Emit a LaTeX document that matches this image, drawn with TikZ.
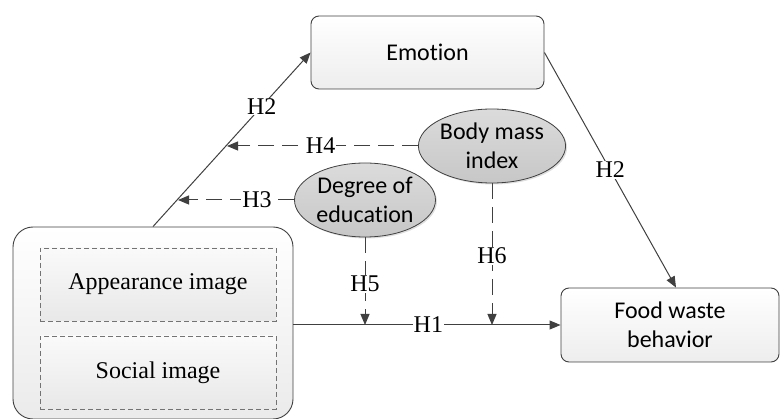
\documentclass[tikz,border=0pt]{standalone}
\usepackage{fontspec}
\setmainfont{Liberation Serif}
\newfontfamily\calib[Ligatures=NoCommon]{Carlito}
\usetikzlibrary{arrows.meta,shapes.geometric,shadows}
\definecolor{ln}{HTML}{404040}
\begin{document}
\begin{tikzpicture}[x=1pt,y=-1pt,
  font=\fontsize{24}{29}\selectfont,
  box/.style={draw=ln, line width=0.9pt, rounded corners=8pt, top color=white, bottom color=black!7, align=center, font=\calib\fontsize{24}{29}\selectfont, inner sep=0pt},
  inbox/.style={draw=black!55, line width=0.8pt, dash pattern=on 5pt off 3pt, top color=black!2, bottom color=black!9, inner sep=0pt},
  oval/.style={ellipse, draw=ln, line width=0.8pt, top color=black!14, bottom color=black!22, align=center, font=\calib\fontsize{24}{29}\selectfont, inner sep=0pt, drop shadow={opacity=0.25, shadow xshift=1.5pt, shadow yshift=-1.5pt}},
  conn/.style={draw=ln, line width=1pt},
  arr/.style={conn, -{Triangle[length=11pt,width=9pt]}},
  dsh/.style={dash pattern=on 16pt off 8pt},
  lab/.style={fill=white, inner sep=1pt}
]
\useasboundingbox (0,0) rectangle (782,419);
\node[box, minimum width=233pt, minimum height=73pt] (emo) at (427.5,52.5) {Emotion};
\node[box, minimum width=218pt, minimum height=74pt] (food) at (670,325) {Food waste\\behavior};
\node[box, rounded corners=20pt, minimum width=280pt, minimum height=192pt, top color=white, bottom color=black!8] (big) at (153,323) {};
\node[inbox, minimum width=236pt, minimum height=73pt] (app) at (158,284.5) {Appearance image};
\node[inbox, minimum width=236pt, minimum height=73pt] (soc) at (158,372.5) {Social image};
\node[oval, minimum width=141pt, minimum height=74pt] (bmi) at (492,146) {Body mass\\index};
\node[oval, minimum width=141pt, minimum height=74pt] (doe) at (365,200) {Degree of\\education};
\coordinate (p4) at (227,146);
\coordinate (p3) at (178,200);
% H2 left
\draw[arr] (big.north) -- node[lab, pos=0.69] {H2} (emo.west);
% H2 right
\draw[arr] (emo.east) -- node[lab, pos=0.5] {H2} ([xshift=6pt]food.north);
% H1
\draw[arr] (big.east |- food.west) -- node[lab, pos=0.505] {H1} (food.west);
% H4, H3
\draw[arr, dsh] (bmi.west) -- node[lab, pos=0.51] {H4} (p4);
\draw[arr, dsh] (doe.west) -- node[lab, pos=0.32] {H3} (p3);
% H5, H6
\draw[arr, dsh] (doe.south) -- node[lab, pos=0.53] {H5} (doe.south |- food.west);
\draw[arr, dsh] (bmi.south) -- node[lab, pos=0.51] {H6} (bmi.south |- food.west);
\end{tikzpicture}
\end{document}
